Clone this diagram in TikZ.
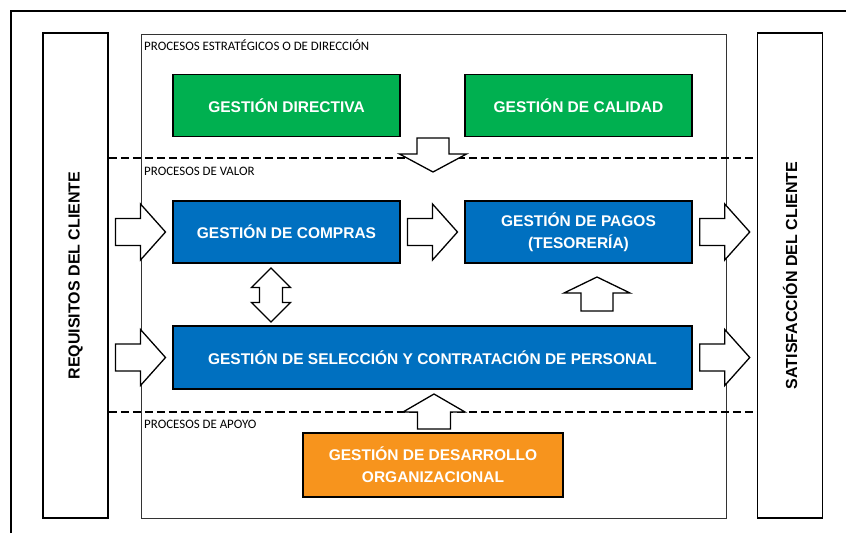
\documentclass[tikz,border=0pt]{standalone}
\usepackage{fontspec}
\setmainfont{Liberation Sans}
\newfontfamily\calibri{Carlito}
\usetikzlibrary{calc}

\definecolor{verde}{HTML}{00B050}
\definecolor{azul}{HTML}{0070C0}
\definecolor{naranja}{HTML}{F7941D}

\tikzset{
  flecha/.style={draw=black, fill=white, line width=1.3pt, line join=miter},
  % flecha de bloque: largo / medio ancho del cuerpo / medio ancho de la punta / largo de la punta
  pics/bloque/.style n args={4}{code={%
    \path[flecha] (-#1/2,-#2) -- (#1/2-#4,-#2) -- (#1/2-#4,-#3) -- (#1/2,0)
      -- (#1/2-#4,#3) -- (#1/2-#4,#2) -- (-#1/2,#2) -- cycle;
  }},
  pics/bloquedoble/.style n args={4}{code={%
    \path[flecha] (-#1/2,0) -- (-#1/2+#4,#3) -- (-#1/2+#4,#2) -- (#1/2-#4,#2)
      -- (#1/2-#4,#3) -- (#1/2,0) -- (#1/2-#4,-#3) -- (#1/2-#4,-#2)
      -- (-#1/2+#4,-#2) -- (-#1/2+#4,-#3) -- cycle;
  }},
}

\begin{document}
\begin{tikzpicture}[x=1pt, y=-1pt,
    marco/.style={line width=1.5pt},
    lateral/.style={draw, line width=1.5pt, minimum width=65pt, minimum height=485pt, inner sep=0pt,
      font=\fontsize{16}{18}\selectfont\bfseries},
    contenedor/.style={draw=black!80, line width=0.9pt, minimum width=585pt, minimum height=484pt, inner sep=0pt},
    etiqueta/.style={anchor=base west, inner sep=0pt, font=\calibri\fontsize{12.9}{14}\selectfont},
    caja/.style={draw, line width=1.5pt, minimum width=227pt, minimum height=62pt, inner sep=0pt,
      text=white, align=center, font=\fontsize{15.5}{22}\selectfont\bfseries},
    divisor/.style={line width=2pt, dash pattern=on 8pt off 4pt},
  ]
  \useasboundingbox (0,0) rectangle (846,533);

  % marco exterior (cortado a la derecha y abajo)
  \draw[marco] (11,533) -- (11,11) -- (846,11);

  % cliente
  \node[lateral] (req) at (75.5,275.5) {\rotatebox{90}{REQUISITOS DEL CLIENTE}};
  \node[lateral] (sat) at (790,275.5) {\rotatebox{90}{SATISFACCIÓN DEL CLIENTE}};

  % procesos
  \node[contenedor] (procesos) at (433.5,276) {};

  \coordinate (div1) at (0,158);
  \coordinate (div2) at (0,411.5);
  \draw[divisor] (req.east |- div1) -- (sat.west |- div1);
  \draw[divisor] (req.east |- div2) -- (sat.west |- div2);

  \node[etiqueta] (estrategicos) at (144,50) {PROCESOS ESTRATÉGICOS O DE DIRECCIÓN};
  \node[etiqueta] (valor) at (144,175.5) {PROCESOS DE VALOR};
  \node[etiqueta] (apoyo) at (144,428) {PROCESOS DE APOYO};

  \node[caja, fill=verde] (directiva) at (286.5,105.5) {GESTIÓN DIRECTIVA};
  \node[caja, fill=verde] (calidad) at (578.5,105.5) {GESTIÓN DE CALIDAD};

  \node[caja, fill=azul] (compras) at (286.5,232) {GESTIÓN DE COMPRAS};
  \node[caja, fill=azul] (pagos) at (578.5,232) {GESTIÓN DE PAGOS\\(TESORERÍA)};
  \node[caja, fill=azul, minimum width=519pt, minimum height=63pt] (seleccion) at (432.5,357.5)
    {GESTIÓN DE SELECCIÓN Y CONTRATACIÓN DE PERSONAL};

  \node[caja, fill=naranja, minimum width=260pt, minimum height=64pt] (desarrollo) at (433,465)
    {GESTIÓN DE DESARROLLO\\ORGANIZACIONAL};

  % flechas de bloque
  \pic at ($(req.east |- compras.west)!0.5!(compras.west)$) {bloque={50}{13.5}{28}{25}};
  \pic at ($(compras.east)!0.5!(pagos.west)$) {bloque={50}{13.5}{28}{25}};
  \pic at ($(pagos.east)!0.5!(sat.west |- pagos.east)$) {bloque={50}{13.5}{28}{25}};
  \pic at ($(req.east |- seleccion.west)!0.5!(seleccion.west)$) {bloque={50}{13.5}{28}{25}};
  \pic at ($(seleccion.east)!0.5!(sat.west |- seleccion.east)$) {bloque={50}{13.5}{28}{25}};

  \pic[rotate=-90] at (433,155) {bloque={34}{16}{33.5}{18}};
  \pic[rotate=90] at (271,295) {bloquedoble={54}{11.5}{19.5}{19.5}};
  \pic[rotate=90] at (597,294) {bloque={34}{16}{33}{16}};
  \pic[rotate=90] at (434,411.5) {bloque={35}{16.5}{31}{18}};
\end{tikzpicture}
\end{document}
